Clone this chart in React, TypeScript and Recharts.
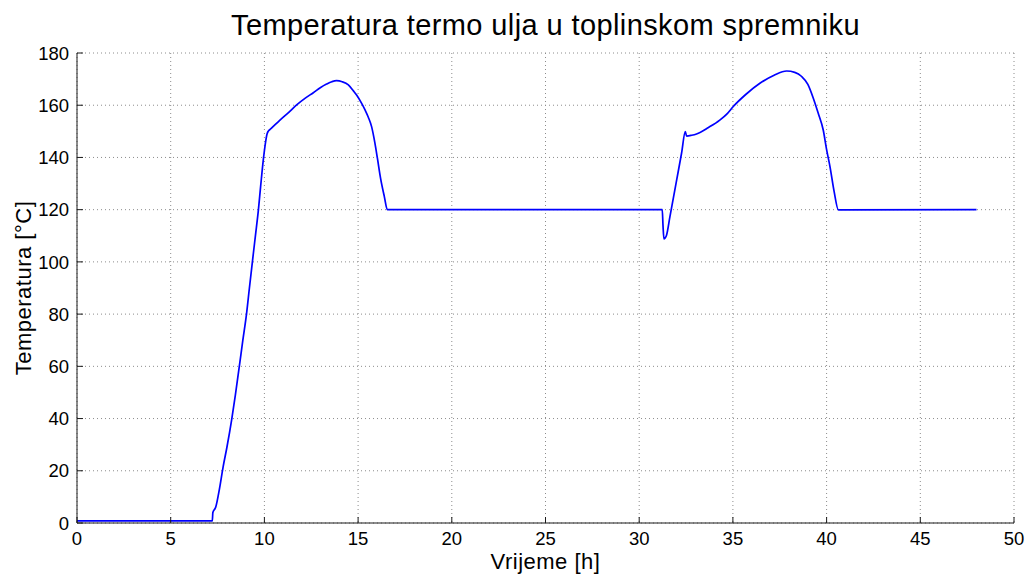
import { LineChart, Line, XAxis, YAxis, CartesianGrid } from "recharts"

// vrijeme [h]
const hours = [
  0, 7.22, 7.25, 7.4, 7.6, 7.8, 8.0, 8.25, 8.45, 8.66, 8.85, 9.05, 9.2, 9.37, 9.52, 9.68, 9.8, 9.94,
  10.15, 10.2, 10.35, 10.83, 11.3, 11.72, 12.2, 12.61, 13.0, 13.32, 13.6, 13.85, 14.15, 14.48, 14.75,
  14.92, 15.19, 15.37, 15.55, 15.72, 15.9, 16.03, 16.2, 16.4, 16.56,
  31.23, 31.27, 31.32, 31.45, 31.64, 32.0, 32.26, 32.46, 32.53, 32.8, 33.06, 33.7, 34.3, 34.7, 35.02,
  35.7, 36.44, 37.2, 37.87, 38.3, 38.67, 39.0, 39.29, 39.55, 39.82, 40.0, 40.18, 40.4, 40.63, 48,
]

// temperatura termo ulja [°C]
const temps = [
  0.8, 0.8, 4, 6, 13, 21.6, 29, 39.4, 49, 59.9, 70, 80.3, 90, 100.7, 110, 119.9, 129, 139,
  149.2, 150, 151, 154.3, 157.3, 160.1, 162.8, 164.8, 166.8, 168.1, 169, 169.4, 169, 167.8, 165.5,
  163.9, 160.7, 158.2, 155.3, 151.8, 145.4, 139.7, 132, 125, 120,
  120, 114, 108.8, 110, 117.3, 131.4, 141.6, 149.9, 148.2, 148.5, 149, 151.5, 154.3, 156.8, 159.5,
  164.2, 168.4, 171.5, 173.1, 172.6, 171, 168, 162.7, 157, 150.5, 143, 136.5, 127, 119.9, 120,
]

const xTicks = [0, 5, 10, 15, 20, 25, 30, 35, 40, 45, 50]
const yTicks = [0, 20, 40, 60, 80, 100, 120, 140, 160, 180]

const data = hours.map((h, i) => ({ h, t: temps[i] }))

const FONT = '"Liberation Sans", Arial, Helvetica, sans-serif'
const AXIS = "#1a1a1a"
const TICK = 6

function BottomTick({ x, y, payload }: any) {
  return (
    <g>
      <line x1={x} x2={x} y1={y} y2={y - TICK} stroke={AXIS} />
      <text x={x} y={y + 22} textAnchor="middle" fontSize={18.5} fontFamily={FONT} fill="#000">
        {payload.value}
      </text>
    </g>
  )
}

function LeftTick({ x, y, payload }: any) {
  return (
    <g>
      <line x1={x} x2={x + TICK} y1={y} y2={y} stroke={AXIS} />
      <text x={x - 8} y={y} dy="0.36em" textAnchor="end" fontSize={18.5} fontFamily={FONT} fill="#000">
        {payload.value}
      </text>
    </g>
  )
}

function TopTick({ x, y }: any) {
  return <line x1={x} x2={x} y1={y} y2={y + TICK} stroke={AXIS} />
}

function RightTick({ x, y }: any) {
  return <line x1={x} x2={x - TICK} y1={y} y2={y} stroke={AXIS} />
}

export default function App() {
  return (
    <div style={{ position: "absolute", left: 0, top: 0, width: 1031, height: 574, background: "#fff", fontFamily: FONT }}>
      <LineChart width={1031} height={574} data={data} margin={{ top: 53, right: 17, bottom: 0, left: 0 }}>
        <CartesianGrid stroke="#8c8c8c" strokeDasharray="1 3" />
        <XAxis
          dataKey="h"
          type="number"
          domain={[0, 50]}
          ticks={xTicks}
          height={51}
          stroke={AXIS}
          tickSize={0}
          tickMargin={0}
          tickLine={false}
          tick={<BottomTick />}
          allowDataOverflow
        />
        <XAxis
          xAxisId="top"
          orientation="top"
          dataKey="h"
          type="number"
          domain={[0, 50]}
          ticks={xTicks}
          height={0}
          stroke={AXIS}
          tickSize={0}
          tickMargin={0}
          tickLine={false}
          tick={<TopTick />}
          allowDataOverflow
        />
        <YAxis
          type="number"
          domain={[0, 180]}
          ticks={yTicks}
          width={77}
          stroke={AXIS}
          tickSize={0}
          tickMargin={0}
          tickLine={false}
          tick={<LeftTick />}
          allowDataOverflow
        />
        <YAxis
          yAxisId="right"
          orientation="right"
          type="number"
          domain={[0, 180]}
          ticks={yTicks}
          width={0}
          stroke={AXIS}
          tickSize={0}
          tickMargin={0}
          tickLine={false}
          tick={<RightTick />}
          allowDataOverflow
        />
        <Line
          dataKey="t"
          type="monotone"
          stroke="#0000ff"
          strokeWidth={1.7}
          dot={false}
          activeDot={false}
          isAnimationActive={false}
        />
      </LineChart>

      <div
        style={{
          position: "absolute", left: 77, top: 10.5, width: 937, textAlign: "center",
          fontSize: 29, letterSpacing: 0.4, lineHeight: 1, color: "#000", whiteSpace: "nowrap",
        }}
      >
        Temperatura termo ulja u toplinskom spremniku
      </div>
      <div
        style={{
          position: "absolute", left: 77, top: 550.5, width: 937, textAlign: "center",
          fontSize: 22, letterSpacing: 0.5, lineHeight: 1, color: "#000", whiteSpace: "nowrap",
        }}
      >
        Vrijeme [h]
      </div>
      <div
        style={{
          position: "absolute", left: 24 - 150, top: 288 - 12, width: 300, height: 24, textAlign: "center",
          fontSize: 22, letterSpacing: 0.5, lineHeight: "24px", color: "#000", whiteSpace: "nowrap", transform: "rotate(-90deg)",
        }}
      >
        Temperatura [°C]
      </div>
    </div>
  )
}
